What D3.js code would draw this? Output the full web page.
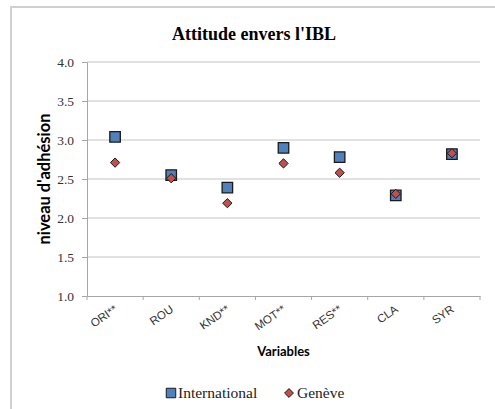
<!DOCTYPE html>
<html>
<head>
<meta charset="utf-8">
<script src="https://cdn.jsdelivr.net/npm/d3@7"></script>
<style>
  body { margin: 0; background: #fff; }
</style>
</head>
<body>
<div id="chart"></div>
<script>
// values
const categories    = ["ORI**", "ROU", "KND**", "MOT**", "RES**", "CLA", "SYR"]
const international = [3.04, 2.55, 2.39, 2.90, 2.78, 2.29, 2.82]
const geneve        = [2.71, 2.51, 2.19, 2.70, 2.58, 2.31, 2.83]
const yTicks        = [1.0, 1.5, 2.0, 2.5, 3.0, 3.5, 4.0]
const seriesNames   = ["International", "Genève"]

const width = 495, height = 409
const margin = { top: 62, right: 15, bottom: 113, left: 87 }
const serif = "'Liberation Serif', 'DejaVu Serif', serif"

const svg = d3.select("#chart")
    .append("svg")
    .attr("width", width)
    .attr("height", height)

// outer chart-area border (cut off at right and bottom)
svg.append("rect")
    .attr("x", 11)
    .attr("y", 7)
    .attr("width", 500)
    .attr("height", 420)
    .attr("fill", "none")
    .attr("stroke", "#d0d0d0")
    .attr("stroke-width", 2)

const x = d3.scaleBand()
    .domain(categories)
    .range([margin.left, width - margin.right])

const y = d3.scaleLinear()
    .domain([1, 4])
    .range([height - margin.bottom, margin.top])

// gridlines
svg.append("g")
    .selectAll("line")
    .data(yTicks.slice(1))
    .join("line")
    .attr("x1", margin.left)
    .attr("x2", width - margin.right)
    .attr("y1", d => y(d))
    .attr("y2", d => y(d))
    .attr("stroke", "#c4c4c4")
    .attr("stroke-width", 1)

// y axis
const yAxis = svg.append("g")
    .attr("transform", `translate(${margin.left},0)`)
    .call(d3.axisLeft(y).tickValues(yTicks).tickFormat(d3.format(".1f")).tickSize(5).tickPadding(8))
yAxis.attr("font-family", serif).attr("font-size", 13.5)
yAxis.select(".domain").attr("stroke", "#a6a6a6")
yAxis.selectAll(".tick line").attr("stroke", "#a6a6a6")
yAxis.selectAll("text").attr("fill", "#333")

// x axis
const xAxis = svg.append("g")
    .attr("transform", `translate(0,${height - margin.bottom})`)
    .call(d3.axisBottom(x).tickSize(0).tickFormat(""))
xAxis.select(".domain").attr("stroke", "#a6a6a6")

// tick marks at band boundaries
svg.append("g")
    .selectAll("line")
    .data(categories.map(d => x(d)).concat([x.range()[1]]))
    .join("line")
    .attr("x1", d => d)
    .attr("x2", d => d)
    .attr("y1", height - margin.bottom)
    .attr("y2", height - margin.bottom + 4)
    .attr("stroke", "#a6a6a6")

// rotated category labels
svg.append("g")
    .selectAll("text")
    .data(categories)
    .join("text")
    .attr("text-anchor", "end")
    .attr("transform", d => `translate(${x(d) + x.bandwidth() / 2 + 3},${height - margin.bottom + 15}) rotate(-35)`)
    .attr("font-family", "'Liberation Sans', Arial, sans-serif")
    .attr("font-size", 11.5)
    .attr("fill", "#333")
    .text(d => d)

// titles
svg.append("text")
    .attr("x", 254)
    .attr("y", 40)
    .attr("text-anchor", "middle")
    .attr("font-family", serif)
    .attr("font-weight", "bold")
    .attr("font-size", 18)
    .text("Attitude envers l'IBL")

svg.append("text")
    .attr("transform", `translate(50,179) rotate(-90)`)
    .attr("text-anchor", "middle")
    .attr("font-family", "Lato")
    .attr("font-weight", "bold")
    .attr("font-size", 16.5)
    .text("niveau d'adhésion")

svg.append("text")
    .attr("x", (margin.left + width - margin.right) / 2)
    .attr("y", 356)
    .attr("text-anchor", "middle")
    .attr("font-family", "Lato")
    .attr("font-weight", "bold")
    .attr("font-size", 13)
    .text("Variables")

// markers
const square = d3.symbol().type(d3.symbolSquare).size(110)
const diamond = d3.symbol().type(d3.symbolDiamond2).size(55)

svg.append("g")
    .selectAll("path")
    .data(categories.map((c, i) => ({ c, v: international[i] })))
    .join("path")
    .attr("d", square)
    .attr("transform", d => `translate(${x(d.c) + x.bandwidth() / 2},${y(d.v)})`)
    .attr("fill", "#4f81bd")
    .attr("stroke", "#1a1a1a")
    .attr("stroke-width", 1.3)

svg.append("g")
    .selectAll("path")
    .data(categories.map((c, i) => ({ c, v: geneve[i] })))
    .join("path")
    .attr("d", diamond)
    .attr("transform", d => `translate(${x(d.c) + x.bandwidth() / 2},${y(d.v)})`)
    .attr("fill", "#c0504d")
    .attr("stroke", "#1a1a1a")
    .attr("stroke-width", 1)

// legend
const legend = svg.append("g").attr("transform", "translate(0,393)")
legend.append("path")
    .attr("d", d3.symbol().type(d3.symbolSquare).size(90))
    .attr("transform", "translate(171,0)")
    .attr("fill", "#4f81bd")
    .attr("stroke", "#1a1a1a")
legend.append("text")
    .attr("x", 178)
    .attr("y", 5)
    .attr("font-family", serif)
    .attr("font-size", 15.5)
    .attr("fill", "#222")
    .text(seriesNames[0])
legend.append("path")
    .attr("d", d3.symbol().type(d3.symbolDiamond2).size(50))
    .attr("transform", "translate(289,0)")
    .attr("fill", "#c0504d")
    .attr("stroke", "#1a1a1a")
legend.append("text")
    .attr("x", 297)
    .attr("y", 5)
    .attr("font-family", serif)
    .attr("font-size", 15.5)
    .attr("fill", "#222")
    .text(seriesNames[1])
</script>
</body>
</html>
